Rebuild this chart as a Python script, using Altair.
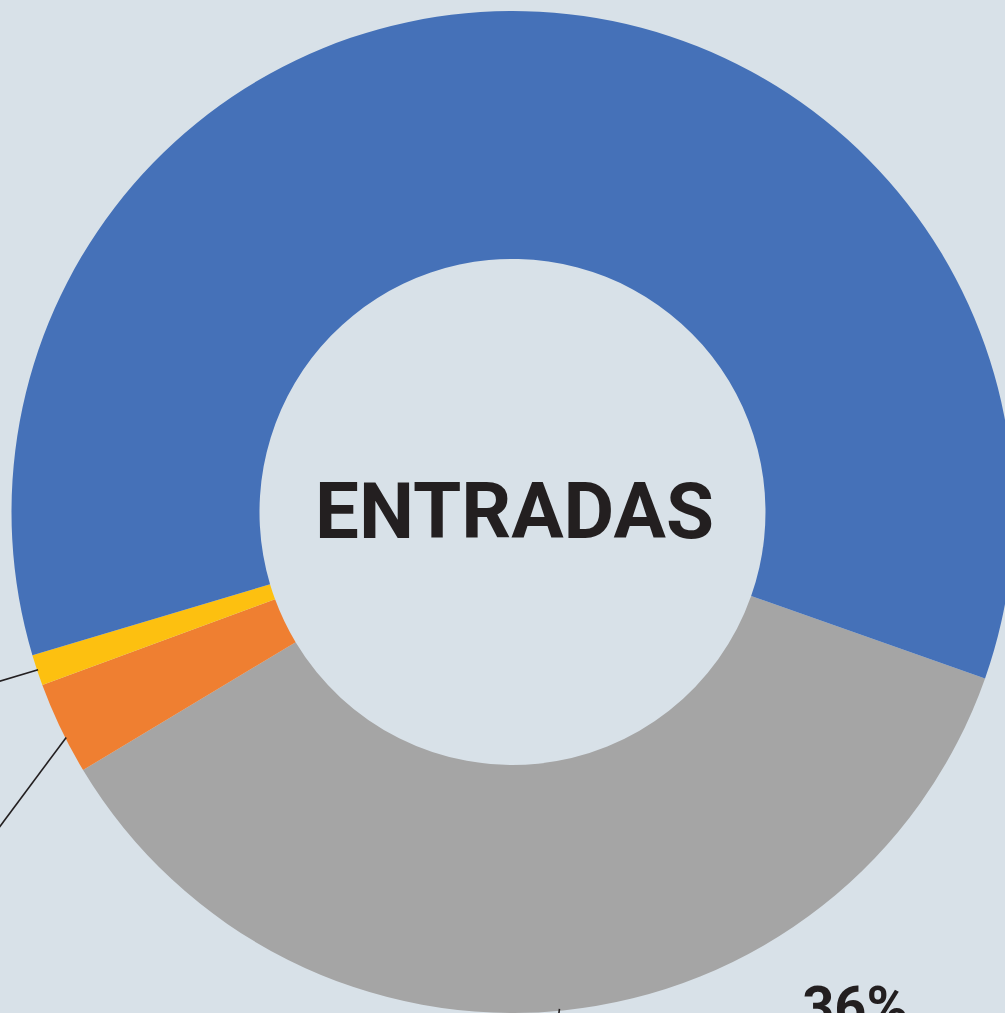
import math
import altair as alt
import pandas as pd

# Slice data
categories = ["Gris", "Naranja", "Amarillo", "Azul"]
values = [36, 3, 1, 60]
colors = ["#a5a5a5", "#ef7f31", "#fdc010", "#4571b8"]
order = [1, 2, 3, 4]

# Labels
center_label = "ENTRADAS"
pct_labels = ["36%"]

W, H = 1005, 1013
CX, CY = 512.5, 512
R_OUT, R_IN = 501, 253
START_DEG = 109.4

df = pd.DataFrame({"cat": categories, "value": values, "order": order})

start = math.radians(START_DEG)
arc = alt.Chart(df).mark_arc(radius=R_OUT, radius2=R_IN, stroke=None).encode(
    theta=alt.Theta("value:Q", stack=True, scale=alt.Scale(range=[start, start + 2 * math.pi])),
    color=alt.Color("cat:N", scale=alt.Scale(domain=categories, range=colors), legend=None),
    order=alt.Order("order:Q"),
    x=alt.value(CX),
    y=alt.value(CY),
)

# Leader lines: start on the outer rim at the given angle, end toward labels off-canvas
line_cats = ["Gris", "Naranja", "Amarillo"]
line_angle = [174.6, 243.2, 251.6]
line_r = [499, 500, 500]
line_end_x = [553, -40, -60]
line_end_y = [1060, 880, 699]
rows = []
for c, ang, r, ex, ey in zip(line_cats, line_angle, line_r, line_end_x, line_end_y):
    a = math.radians(ang)
    rows.append({"x": CX + r * math.sin(a), "y": CY - r * math.cos(a), "x2": ex, "y2": ey})
ldf = pd.DataFrame(rows)

xs = alt.Scale(domain=[0, W], range=[0, W])
ys = alt.Scale(domain=[0, H], range=[0, H])

lines = alt.Chart(ldf).mark_rule(color="#231f20", strokeWidth=1.6).encode(
    x=alt.X("x:Q", scale=xs, axis=None),
    y=alt.Y("y:Q", scale=ys, axis=None),
    x2="x2:Q",
    y2="y2:Q",
)

tdf = pd.DataFrame({"label": pct_labels, "x": [855], "y": [1026]})
pct = alt.Chart(tdf).mark_text(
    font="Roboto", fontWeight="bold", fontSize=56, color="#231f20", align="center", baseline="alphabetic"
).encode(
    x=alt.X("x:Q", scale=xs, axis=None),
    y=alt.Y("y:Q", scale=ys, axis=None),
    text="label:N",
)

cdf = pd.DataFrame({"label": [center_label]})
center = alt.Chart(cdf).mark_text(
    font="Roboto", fontWeight="bold", fontSize=78, color="#231f20", align="center", baseline="middle"
).encode(
    x=alt.value(CX + 2),
    y=alt.value(CY + 3),
    text="label:N",
)

chart = alt.layer(arc, lines, pct, center).properties(
    width=W, height=H, background="#d8e1e8", padding=0,
    autosize=alt.AutoSizeParams(type="none"),
).configure_view(stroke=None)

chart.save("out.html", embed_options={"renderer": "svg", "actions": False})
